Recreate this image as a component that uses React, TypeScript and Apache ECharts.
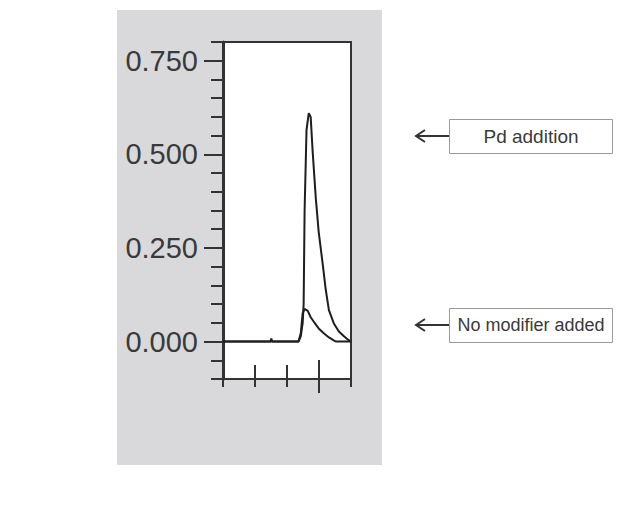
import React, { useEffect, useRef } from "react";
import * as echarts from "echarts";

const pdX = [0, 1.48, 1.51, 1.54, 2.36, 2.43, 2.49, 2.52, 2.55, 2.61, 2.68, 2.74, 2.8, 2.9, 2.99, 3.12, 3.21, 3.31, 3.46, 3.62, 3.78, 3.94, 4];
const pdY = [0, 0, 0.008, 0, 0, 0.014, 0.05, 0.1, 0.35, 0.565, 0.61, 0.6, 0.51, 0.383, 0.293, 0.204, 0.139, 0.084, 0.049, 0.027, 0.014, 0.003, 0];
const noModX = [0, 2.36, 2.43, 2.49, 2.55, 2.65, 2.74, 2.87, 2.99, 3.15, 3.31, 3.46, 3.53, 4];
const noModY = [0, 0, 0.022, 0.076, 0.087, 0.082, 0.065, 0.049, 0.035, 0.022, 0.011, 0.003, 0, 0];
const yMajorTicks = [0, 0.25, 0.5, 0.75];
const xInnerTicks = [1, 2, 3];
const xLongTicks = [3];
const labelPd = "Pd addition";
const labelNoMod = "No modifier added";

const INK = "#333333";

export default function App() {
  const ref = useRef<HTMLDivElement>(null);
  useEffect(() => {
    if (!ref.current) return;
    const chart = echarts.init(ref.current, null, { renderer: "svg" });
    const baseX = { type: "value", min: 0, max: 4, interval: 1, gridIndex: 0, position: "bottom", splitLine: { show: false }, axisLabel: { show: false } };
    const baseY = { type: "value", min: -0.1, max: 0.8, interval: 0.05, gridIndex: 0, position: "left", splitLine: { show: false } };
    const arrow = (y: number) => [
      { type: "line", shape: { x1: 416, y1: y, x2: 449, y2: y }, style: { stroke: INK, lineWidth: 2 } },
      { type: "polyline", shape: { points: [[425, y - 6], [416, y], [425, y + 6]] }, style: { stroke: INK, lineWidth: 2, fill: "none" } },
    ];
    const box = (y: number, text: string, size: number) => [
      { type: "rect", shape: { x: 449.5, y: y - 16.5, width: 163, height: 34 }, style: { fill: "#ffffff", stroke: "#9a9a9a", lineWidth: 1 } },
      { type: "text", x: 531, y: y, style: { text, fill: "#3a3a3a", font: `${size}px 'Liberation Sans', Arial, sans-serif`, textAlign: "center", textVerticalAlign: "middle" } },
    ];
    chart.setOption({
      animation: false,
      backgroundColor: "#ffffff",
      grid: { left: 223, top: 42, width: 128, height: 337, show: true, backgroundColor: "#ffffff", borderColor: INK, borderWidth: 2, containLabel: false },
      xAxis: [
        { ...baseX, axisLine: { show: true, onZero: false, lineStyle: { color: INK, width: 2 } }, axisTick: { show: true, inside: false, length: 8, lineStyle: { color: INK, width: 2 } } },
        { ...baseX, axisLine: { show: false, onZero: false }, axisTick: { show: true, inside: true, length: 14, customValues: xInnerTicks, lineStyle: { color: INK, width: 2 } } },
        { ...baseX, axisLine: { show: false, onZero: false }, axisTick: { show: true, inside: true, length: 19, customValues: xLongTicks, lineStyle: { color: INK, width: 2 } } },
        { ...baseX, axisLine: { show: false, onZero: false }, axisTick: { show: true, inside: false, length: 14, customValues: xLongTicks, lineStyle: { color: INK, width: 2 } } },
      ],
      yAxis: [
        { ...baseY, axisLine: { show: true, onZero: false, lineStyle: { color: INK, width: 3 } }, axisTick: { show: true, inside: false, length: 12, lineStyle: { color: INK, width: 2 } }, axisLabel: { show: false } },
        {
          ...baseY,
          axisLine: { show: false, onZero: false },
          axisTick: { show: true, inside: false, length: 19, customValues: yMajorTicks, lineStyle: { color: INK, width: 2 } },
          axisLabel: {
            show: true,
            customValues: yMajorTicks,
            margin: 25,
            color: "#3a3a3a",
            fontSize: 29,
            fontFamily: "'Liberation Sans', sans-serif",
            formatter: (v: number) => v.toFixed(3),
          },
        },
      ],
      series: [
        { type: "line", xAxisIndex: 0, yAxisIndex: 0, data: pdX.map((x, i) => [x, pdY[i]]), showSymbol: false, lineStyle: { color: "#1e1e1e", width: 2 }, z: 3 },
        { type: "line", xAxisIndex: 0, yAxisIndex: 0, data: noModX.map((x, i) => [x, noModY[i]]), showSymbol: false, lineStyle: { color: "#1e1e1e", width: 2 }, z: 3 },
      ],
      graphic: [
        { type: "rect", z: -10, shape: { x: 117, y: 10, width: 265, height: 455 }, style: { fill: "#d9d8da" } },
        ...arrow(136),
        ...box(136, labelPd, 19),
        ...arrow(325),
        ...box(325, labelNoMod, 18),
      ],
    });
    return () => chart.dispose();
  }, []);
  return <div ref={ref} style={{ position: "fixed", left: 0, top: 0, width: 618, height: 529 }} />;
}
